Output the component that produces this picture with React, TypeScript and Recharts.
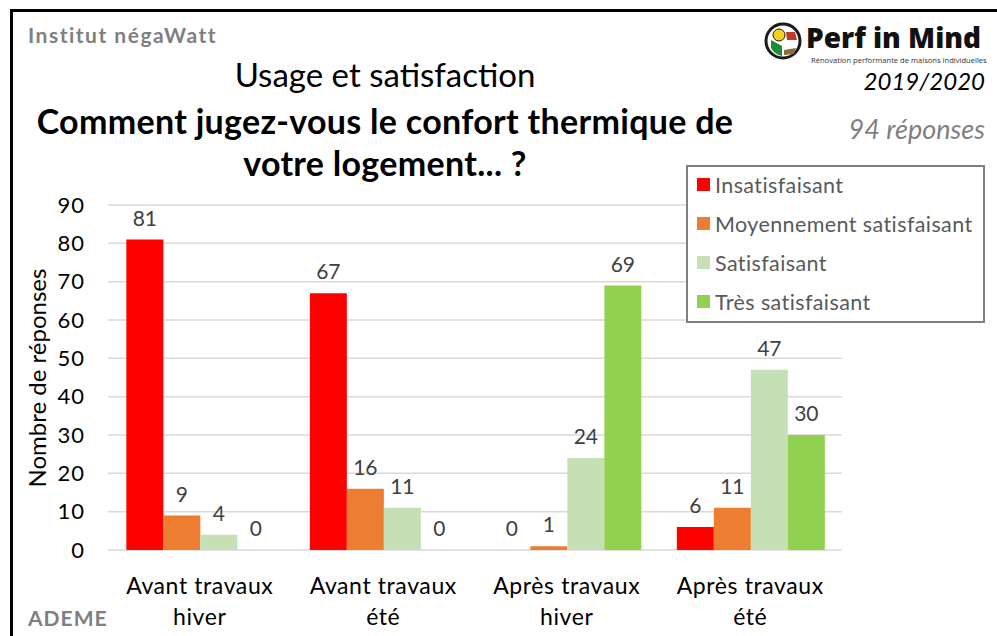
import { BarChart, Bar, XAxis, YAxis, CartesianGrid, LabelList, Legend } from "recharts";

const categories = ["Avant travaux hiver", "Avant travaux été", "Après travaux hiver", "Après travaux été"];
const tickLines = [
  ["Avant travaux", "hiver"],
  ["Avant travaux", "été"],
  ["Après travaux", "hiver"],
  ["Après travaux", "été"],
];
const insatisfaisant = [81, 67, 0, 6];
const moyennement = [9, 16, 1, 11];
const satisfaisant = [4, 11, 24, 47];
const tresSatisfaisant = [0, 0, 69, 30];
const yTicks = [0, 10, 20, 30, 40, 50, 60, 70, 80, 90];
const boundaryTicks = [0, 1, 2, 3, 4];

const series = [
  { key: "ins", name: "Insatisfaisant", color: "#FF0000" },
  { key: "moy", name: "Moyennement satisfaisant", color: "#ED7D31" },
  { key: "sat", name: "Satisfaisant", color: "#C5E0B4" },
  { key: "tres", name: "Très satisfaisant", color: "#92D050" },
];

const data = categories.map((c, i) => ({
  category: c,
  ins: insatisfaisant[i],
  moy: moyennement[i],
  sat: satisfaisant[i],
  tres: tresSatisfaisant[i],
}));

const FONT = "Lato, 'Open Sans', sans-serif";

// zero values still need a (invisible) rect so their "0" label gets drawn
const zeroMin = (v: any) => (Number(v) === 0 ? 0.01 : 0);

function CategoryTick(props: any) {
  const { x, y, payload } = props;
  const lines = tickLines[categories.indexOf(payload.value)] || [payload.value];
  return (
    <text x={x} y={y} textAnchor="middle" fontSize={23} letterSpacing={0.6} fill="#000" fontFamily={FONT}>
      {lines.map((l: string, i: number) => (
        <tspan key={i} x={x} y={y + 44 + i * 31}>
          {l}
        </tspan>
      ))}
    </text>
  );
}

function ValueLabel(props: any) {
  const { x, y, width, value } = props;
  return (
    <text x={x + width / 2} y={y - 14} textAnchor="middle" fill="#404040" fontSize={21} fontFamily={FONT}>
      {value}
    </text>
  );
}

function LegendBox(props: any) {
  const items = props.payload || [];
  return (
    <div
      style={{
        width: 299,
        height: 158,
        border: "2px solid #7f7f7f",
        background: "#fff",
        boxSizing: "border-box",
        fontFamily: FONT,
      }}
    >
      {items.map((it: any, i: number) => (
        <div key={it.value} style={{ display: "flex", alignItems: "center", height: 39, paddingLeft: 9, marginTop: i === 0 ? -2 : 0 }}>
          <span style={{ width: 13, height: 13, background: it.color, display: "inline-block", marginRight: 5 }} />
          <span style={{ fontSize: 21.5, color: "#595959", letterSpacing: 0.4 }}>{it.value}</span>
        </div>
      ))}
    </div>
  );
}

export default function App() {
  return (
    <div style={{ position: "absolute", left: 0, top: 0, width: 997, height: 636, background: "#fff", fontFamily: FONT, overflow: "hidden" }}>
      <div style={{ position: "absolute", left: 10, top: 9, width: 990, height: 640, borderLeft: "3px solid #000", borderTop: "3px solid #000" }} />

      <div style={{ position: "absolute", left: 28, top: 22, fontSize: 21, fontWeight: 700, color: "#7f7f7f", letterSpacing: 1.5 }}>Institut négaWatt</div>
      <div style={{ position: "absolute", left: 28, top: 605, fontSize: 21, fontWeight: 700, color: "#7f7f7f", letterSpacing: 1 }}>ADEME</div>

      <div style={{ position: "absolute", left: 0, width: 770, top: 54, textAlign: "center", fontSize: 33, color: "#000" }}>
        Usage et satisfaction
      </div>
      <div style={{ position: "absolute", left: 0, width: 770, top: 100, textAlign: "center", fontSize: 34, fontWeight: 700, color: "#000", lineHeight: "42px", letterSpacing: 0.3 }}>
        Comment jugez-vous le confort thermique de
        <br />
        votre logement... ?
      </div>

      <svg style={{ position: "absolute", left: 764, top: 22 }} width={40} height={40}>
        <circle cx={19} cy={19} r={17} fill="#fff" stroke="#1a1a1a" strokeWidth={3} />
        <path d="M7 18 L18 24 L18 34 A15 15 0 0 1 7 26 Z" fill="#1e8a3c" />
        <circle cx={15} cy={13} r={6} fill="#f4d21f" stroke="#1a1a1a" strokeWidth={1} />
        <path d="M22 10 L31 10 L33 18 L23 18 Z" fill="#c0392b" />
        <path d="M20 28 L32 26 L30 32 L20 33 Z" fill="#8b6b3a" />
      </svg>
      <div style={{ position: "absolute", left: 806, top: 18, fontSize: 28, fontWeight: 900, color: "#111", lineHeight: "38px", fontFamily: "'Open Sans', Lato, sans-serif" }}>
        Perf in Mind
      </div>
      <div style={{ position: "absolute", left: 811, top: 56, fontSize: 7.6, color: "#333", lineHeight: "9px", fontFamily: "'Open Sans', sans-serif" }}>
        Rénovation performante de maisons individuelles
      </div>
      <div style={{ position: "absolute", right: 12, top: 66, fontSize: 24, fontStyle: "italic", color: "#000" }}>2019/2020</div>
      <div style={{ position: "absolute", right: 12, top: 112, fontSize: 27, fontStyle: "italic", color: "#7f7f7f" }}>94 réponses</div>

      <div
        style={{
          position: "absolute",
          left: 36,
          top: 378,
          transform: "translate(-50%, -50%) rotate(-90deg)",
          whiteSpace: "nowrap",
          fontSize: 24,
          color: "#000",
        }}
      >
        Nombre de réponses
      </div>

      <div style={{ position: "absolute", left: 0, top: 0 }}>
        <BarChart
          width={997}
          height={636}
          data={data}
          margin={{ top: 205, right: 155, bottom: 0, left: 18 }}
          barCategoryGap="10%"
          barGap={0}
        >
          <CartesianGrid vertical={false} stroke="#d9d9d9" strokeWidth={1.5} />
          <XAxis
            xAxisId="b"
            type="number"
            domain={[0, 4]}
            ticks={boundaryTicks}
            allowDataOverflow
            tick={false}
            tickSize={8}
            height={0}
            stroke="#d9d9d9"
            strokeWidth={1.5}
          />
          <XAxis
            dataKey="category"
            interval={0}
            height={86}
            axisLine={false}
            tickLine={false}
            tickSize={0}
            tickMargin={0}
            tick={<CategoryTick />}
          />
          <YAxis
            width={90}
            domain={[0, 90]}
            ticks={yTicks}
            axisLine={false}
            tickLine={false}
            tickMargin={17}
            tick={{ fill: "#000", fontSize: 22, letterSpacing: 1, fontFamily: FONT }}
          />
          <Legend
            layout="horizontal"
            verticalAlign="middle"
            align="center"
            content={<LegendBox />}
            wrapperStyle={{ position: "absolute", left: 686, top: 165, width: 299, height: 158 }}
          />
          {series.map((s) => (
            <Bar key={s.key} dataKey={s.key} name={s.name} fill={s.color} minPointSize={zeroMin} isAnimationActive={false}>
              <LabelList dataKey={s.key} content={<ValueLabel />} />
            </Bar>
          ))}
        </BarChart>
      </div>
    </div>
  );
}
